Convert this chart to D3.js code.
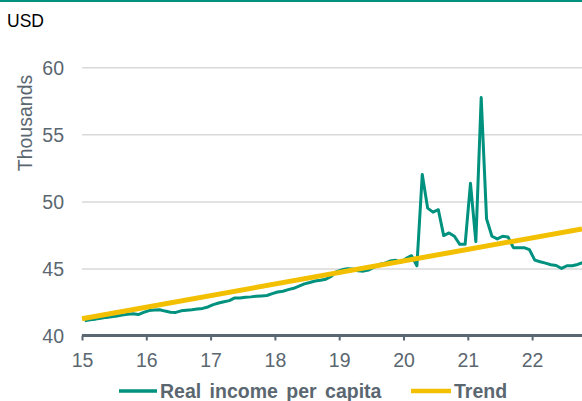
<!DOCTYPE html>
<html>
<head>
<meta charset="utf-8">
<script src="https://cdn.jsdelivr.net/npm/d3@7"></script>
<style>
  html, body { margin: 0; padding: 0; background: #fff; }
  svg { display: block; font-family: "Liberation Sans", Arial, sans-serif; }
</style>
</head>
<body>
<svg id="chart" width="582" height="401"></svg>
<script>
// Monthly real income per capita, USD thousands, Jan 2015 – Oct 2022
const income = [
  41.10, 41.18, 41.22, 41.28, 41.35, 41.40, 41.46, 41.52, 41.58, 41.62, 41.56, 41.72,
  41.86, 41.90, 41.92, 41.82, 41.74, 41.72, 41.84, 41.88, 41.92, 41.97, 42.02, 42.13,
  42.30, 42.42, 42.52, 42.60, 42.80, 42.80, 42.85, 42.88, 42.92, 42.95, 42.98, 43.12,
  43.24, 43.30, 43.42, 43.52, 43.68, 43.85, 43.95, 44.06, 44.12, 44.20, 44.40, 44.76,
  44.90, 44.98, 44.96, 44.82, 44.80, 44.88, 45.10, 45.30, 45.40, 45.55, 45.62, 45.45,
  45.75, 45.95, 45.20, 52.00, 49.50, 49.20, 49.38, 47.45, 47.65, 47.40, 46.80, 46.80,
  51.35, 47.00, 57.75, 48.70, 47.40, 47.20, 47.40, 47.35, 46.55, 46.55, 46.55, 46.40,
  45.62, 45.50, 45.40, 45.28, 45.22, 45.00, 45.20, 45.20, 45.30, 45.45
];
const firstYear = 15;            // two-digit year of the first month
const xEnd = 22.776;             // right edge of the time axis, in years
// Trend line: start and end values over the axis span
const trendYears = [15, xEnd];
const trendValues = [41.25, 47.95];
const yearTicks = [15, 16, 17, 18, 19, 20, 21, 22];
const valueTicks = [40, 45, 50, 55, 60];
const seriesNames = ["Real income per capita", "Trend"];

const teal = "#00917f";
const gold = "#f2c000";
const grey = "#5b6770";

const svg = d3.select("#chart");
const W = 582, H = 401;
const plotLeft = 82, plotRight = 582, plotTop = 67.3, plotBottom = 335.5;

const x = d3.scaleLinear().domain([firstYear, xEnd]).range([plotLeft, plotRight]);
const y = d3.scaleLinear().domain([40, 60]).range([plotBottom, plotTop]);

// top rule
svg.append("rect").attr("x", 0).attr("y", 0).attr("width", W).attr("height", 2).attr("fill", teal);

// unit label
svg.append("text").attr("x", 7).attr("y", 27).attr("font-size", 17.5).attr("fill", "#000").text("USD");

// y-axis title
svg.append("text")
  .attr("transform", "translate(32,123) rotate(-90)")
  .attr("text-anchor", "middle")
  .attr("font-size", 19.5).attr("fill", grey)
  .text("Thousands");

// gridlines and value labels
const yAxis = d3.axisLeft(y).tickValues(valueTicks).tickSize(-(plotRight - plotLeft)).tickPadding(18).tickFormat(d3.format("d"));
const gy = svg.append("g").attr("transform", `translate(${plotLeft},0)`).call(yAxis);
gy.select(".domain").remove();
gy.selectAll(".tick line").attr("stroke", "#d9d9d9").attr("stroke-width", 1.5)
  .filter(d => d === 40).remove();
gy.selectAll(".tick text").attr("font-size", 19.5).attr("fill", grey)
  .attr("font-family", '"Liberation Sans", Arial, sans-serif').attr("dy", "0.36em");

// time axis
const xAxis = d3.axisBottom(x).tickValues(yearTicks).tickSize(5).tickPadding(13).tickFormat(d3.format("d"));
const gx = svg.append("g").attr("transform", `translate(0,${plotBottom})`).call(xAxis);
gx.select(".domain").attr("stroke", grey).attr("stroke-width", 3)
  .attr("d", `M${plotLeft},0H${plotRight}`);
gx.selectAll(".tick line").attr("stroke", grey).attr("stroke-width", 2);
gx.selectAll(".tick text").attr("font-size", 19.5).attr("fill", grey)
  .attr("font-family", '"Liberation Sans", Arial, sans-serif');

// income series, plotted mid-month
const line = d3.line()
  .x((d, i) => x(firstYear + (i + 0.5) / 12))
  .y(d => y(d));
svg.append("path").datum(income)
  .attr("d", line)
  .attr("fill", "none").attr("stroke", teal).attr("stroke-width", 3)
  .attr("stroke-linejoin", "round");

// trend
const trendLine = d3.line().x(d => x(d[0])).y(d => y(d[1]));
svg.append("path").datum(trendYears.map((t, i) => [t, trendValues[i]]))
  .attr("d", trendLine)
  .attr("fill", "none").attr("stroke", gold).attr("stroke-width", 5);

// legend
const legend = [
  { name: seriesNames[0], color: teal, x0: 119, x1: 157, w: 3.5 },
  { name: seriesNames[1], color: gold, x0: 411, x1: 451, w: 4.5 }
];
legend.forEach(l => {
  svg.append("line").attr("x1", l.x0).attr("x2", l.x1).attr("y1", 391).attr("y2", 391)
    .attr("stroke", l.color).attr("stroke-width", l.w);
  svg.append("text").attr("x", l.x1 + 3).attr("y", 397.5)
    .attr("font-size", 19.5).attr("font-weight", "bold").attr("fill", grey)
    .attr("word-spacing", 3).text(l.name);
});
</script>
</body>
</html>
